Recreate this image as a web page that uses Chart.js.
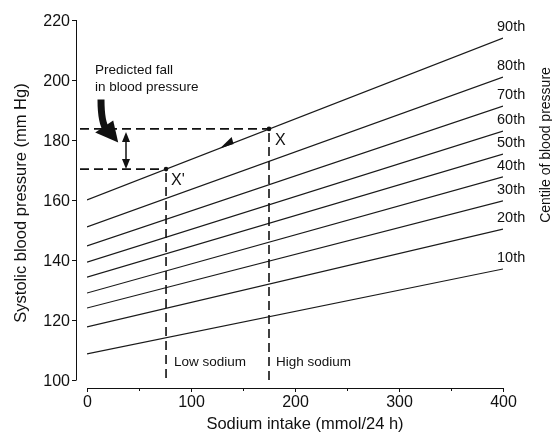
<!DOCTYPE html>
<html>
<head>
<meta charset="utf-8">
<script src="https://cdn.jsdelivr.net/npm/chart.js@4"></script>
<style>
html,body{margin:0;padding:0;background:#fff;}
#wrap{width:552px;height:434px;position:relative;}
</style>
</head>
<body>
<div id="wrap"><canvas id="c" width="552" height="434"></canvas></div>
<script>
// ---- data ----
const sodium = [0, 400];                       // x extent of each centile line (mmol/24 h)
const centiles = ['90th','80th','70th','60th','50th','40th','30th','20th','10th'];
const bpAt0   = [160, 151, 144.7, 139.3, 134.3, 129, 124, 117.7, 108.7];
const bpAt400 = [214, 201, 191.3, 183, 175.3, 167.7, 159.7, 150.3, 137];
const xTicks = [0, 100, 200, 300, 400];
const xMinorTicks = [50, 150, 250, 350];
const yTicks = [100, 120, 140, 160, 180, 200, 220];
const lowSodium = 76, highSodium = 175;        // mmol/24 h
const bpLow = 170.3, bpHigh = 183.7;           // mm Hg at X' and X
const fallArrowX = 37.5;                       // position of the double arrow (mmol/24 h)
const dirArrowX = [128, 141];                  // small direction arrow on the 90th line
const bentArrowStart = [12.5, 193.5], bentArrowTip = [30, 179.2];

const xTitle = 'Sodium intake (mmol/24 h)';
const yTitle = 'Systolic blood pressure (mm Hg)';
const rTitle = 'Centile of blood pressure';
const FONT = '"Liberation Sans", Arial, Helvetica, sans-serif';
const INK = '#111';

const datasets = centiles.map((c, i) => ({
  label: c,
  data: sodium.map((s, k) => ({x: s, y: k === 0 ? bpAt0[i] : bpAt400[i]})),
  showLine: true, borderColor: '#1a1a1a', borderWidth: 1.2,
  pointRadius: 0, fill: false, tension: 0
}));

function fillTri(ctx, pts){
  ctx.beginPath(); ctx.moveTo(pts[0][0], pts[0][1]);
  for (let i = 1; i < pts.length; i++) ctx.lineTo(pts[i][0], pts[i][1]);
  ctx.closePath(); ctx.fill();
}

const annot = {
  id: 'annot',
  afterDraw(chart){
    const ctx = chart.ctx, xs = chart.scales.x, ys = chart.scales.y;
    const X = v => xs.getPixelForValue(v), Y = v => ys.getPixelForValue(v);
    const left = chart.chartArea.left, bottom = chart.chartArea.bottom;
    const axX = left - 11, axY = bottom + 8;
    ctx.save();
    ctx.strokeStyle = INK; ctx.fillStyle = INK; ctx.lineWidth = 1;

    // y axis
    ctx.beginPath(); ctx.moveTo(axX + 0.5, Y(yTicks[yTicks.length-1])); ctx.lineTo(axX + 0.5, Y(yTicks[0])); ctx.stroke();
    ctx.font = '16px ' + FONT; ctx.textAlign = 'right'; ctx.textBaseline = 'middle';
    yTicks.forEach(t => {
      const py = Math.round(Y(t)) + 0.5;
      ctx.beginPath(); ctx.moveTo(axX - 4, py); ctx.lineTo(axX + 0.5, py); ctx.stroke();
      ctx.fillText(String(t), axX - 6, py + 1);
    });
    // x axis
    ctx.beginPath(); ctx.moveTo(X(xTicks[0]), axY + 0.5); ctx.lineTo(X(xTicks[xTicks.length-1]), axY + 0.5); ctx.stroke();
    ctx.textAlign = 'center'; ctx.textBaseline = 'top';
    xTicks.forEach(t => {
      const px = Math.round(X(t)) + 0.5;
      ctx.beginPath(); ctx.moveTo(px, axY); ctx.lineTo(px, axY + 4); ctx.stroke();
      ctx.fillText(String(t), px, axY + 7);
    });
    xMinorTicks.forEach(t => {
      const px = Math.round(X(t)) + 0.5;
      ctx.beginPath(); ctx.moveTo(px, axY); ctx.lineTo(px, axY + 3); ctx.stroke();
    });
    // axis titles
    ctx.font = '16.5px ' + FONT; ctx.textBaseline = 'middle'; ctx.textAlign = 'center';
    ctx.fillText(xTitle, 305, 424);
    ctx.save(); ctx.translate(21, 203); ctx.rotate(-Math.PI/2); ctx.fillText(yTitle, 0, 0); ctx.restore();
    ctx.font = '14px ' + FONT;
    ctx.save(); ctx.translate(546, 145); ctx.rotate(-Math.PI/2); ctx.fillText(rTitle, 0, 0); ctx.restore();

    // centile labels
    ctx.font = '14.5px ' + FONT; ctx.textAlign = 'left'; ctx.textBaseline = 'middle';
    centiles.forEach((c, i) => ctx.fillText(c, X(sodium[1]) - 6, Y(bpAt400[i]) - 11));

    // dashed guides
    ctx.setLineDash([9, 5]); ctx.lineWidth = 1.6;
    ctx.beginPath();
    ctx.moveTo(axX + 4, Y(bpHigh)); ctx.lineTo(X(highSodium), Y(bpHigh));
    ctx.moveTo(axX + 4, Y(bpLow)); ctx.lineTo(X(lowSodium), Y(bpLow));
    ctx.moveTo(X(lowSodium), Y(bpLow) + 4); ctx.lineTo(X(lowSodium), Y(yTicks[0]) + 2);
    ctx.moveTo(X(highSodium), Y(bpHigh) + 4); ctx.lineTo(X(highSodium), Y(yTicks[0]) + 2);
    ctx.stroke();
    ctx.setLineDash([]);

    // points X and X'
    [[highSodium, bpHigh], [lowSodium, bpLow]].forEach(p => {
      ctx.beginPath(); ctx.arc(X(p[0]), Y(p[1]), 2.3, 0, Math.PI*2); ctx.fill();
    });

    // double arrow (predicted fall)
    const ax = X(fallArrowX), ty = Y(bpHigh) + 3, by = Y(bpLow);
    ctx.lineWidth = 1.5;
    ctx.beginPath(); ctx.moveTo(ax, ty + 6); ctx.lineTo(ax, by - 6); ctx.stroke();
    fillTri(ctx, [[ax, ty], [ax - 4, ty + 10], [ax + 4, ty + 10]]);
    fillTri(ctx, [[ax, by], [ax - 4, by - 10], [ax + 4, by - 10]]);

    // bent thick arrow
    const sx = X(bentArrowStart[0]), sy = Y(bentArrowStart[1]);
    const tx = X(bentArrowTip[0]), tyy = Y(bentArrowTip[1]);
    ctx.lineWidth = 7; ctx.lineCap = 'butt';
    ctx.beginPath(); ctx.moveTo(sx + 1, sy); ctx.quadraticCurveTo(sx + 1, sy + 24, sx + 7, sy + 31); ctx.stroke();
    fillTri(ctx, [[tx, tyy], [tx - 23, tyy - 10], [tx - 5, tyy - 22]]);

    // small direction arrowhead on the 90th line
    const s90 = (bpAt400[0] - bpAt0[0]) / (sodium[1] - sodium[0]);
    const yOn = v => Y(bpAt0[0] + s90 * v);
    const p1 = [X(dirArrowX[0]), yOn(dirArrowX[0])], p2 = [X(dirArrowX[1]), yOn(dirArrowX[1])];
    fillTri(ctx, [p1, [p2[0], p2[1] + 1], [p2[0] - 2, p2[1] - 6]]);

    // texts
    ctx.font = '13.5px ' + FONT; ctx.textAlign = 'left'; ctx.textBaseline = 'middle';
    ctx.fillText('Predicted fall', 95, 70);
    ctx.fillText('in blood pressure', 95, 87);
    ctx.fillText('Low sodium', X(lowSodium) + 8, 362);
    ctx.fillText('High sodium', X(highSodium) + 7, 362);
    ctx.font = '16px ' + FONT;
    ctx.fillText('X', X(highSodium) + 6, Y(bpHigh) + 12);
    ctx.fillText("X'", X(lowSodium) + 5, Y(bpLow) + 11);
    ctx.restore();
  }
};

new Chart(document.getElementById('c'), {
  type: 'scatter',
  data: { datasets },
  options: {
    responsive: false, animation: false,
    layout: { padding: { left: 87, right: 49, top: 20, bottom: 54 } },
    plugins: { legend: { display: false }, tooltip: { enabled: false } },
    scales: {
      x: { type: 'linear', min: 0, max: 400, display: false },
      y: { type: 'linear', min: 100, max: 220, display: false }
    }
  },
  plugins: [annot]
});
</script>
</body>
</html>
